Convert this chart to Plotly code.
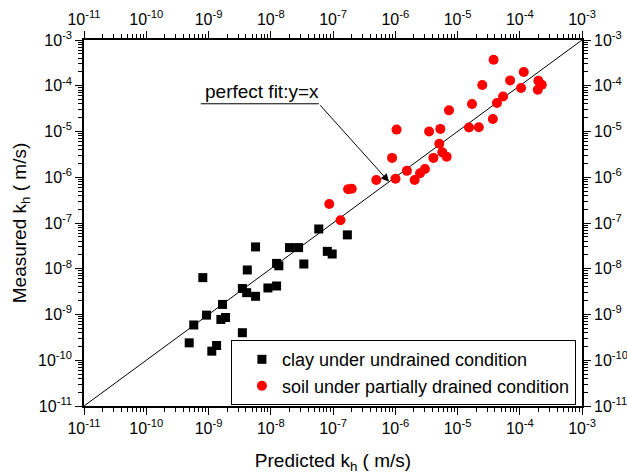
import plotly.graph_objects as go

# ---- data ----
clay_pred = [5.9e-8, 5.7e-9, 2.0e-8, 2.8e-8, 1.7e-7, 8.1e-8, 9.7e-8, 1.24e-8, 1.35e-8,
             3.4e-8, 4.2e-9, 8.1e-10, 3.5e-9, 4.1e-9, 5.7e-9, 9.0e-9, 1.24e-8, 1.68e-9,
             9.3e-10, 5.8e-10, 1.88e-9, 1.58e-9, 3.5e-9, 4.9e-10, 1.35e-9, 1.13e-9]
clay_meas = [7.4e-8, 3.0e-8, 2.9e-8, 2.9e-8, 5.5e-8, 2.4e-8, 2.1e-8, 1.31e-8, 1.16e-8,
             1.27e-8, 9.4e-9, 6.4e-9, 3.7e-9, 3.0e-9, 2.5e-9, 3.8e-9, 4.2e-9, 1.66e-9,
             9.7e-10, 5.9e-10, 8.6e-10, 7.8e-10, 4.0e-10, 2.4e-10, 2.1e-10, 1.58e-10]

soil_pred = [3.8e-5, 1.16e-4, 7.0e-5, 1.99e-4, 2.26e-4, 1.95e-4, 1.05e-4, 2.5e-5, 5.4e-5,
             4.3e-5, 1.71e-5, 7.3e-6, 3.7e-5, 1.53e-5, 2.2e-5, 3.5e-6, 5.3e-6, 1.05e-6,
             5.1e-6, 5.7e-6, 6.7e-6, 4.1e-6, 8.9e-7, 3.0e-6, 2.5e-6, 1.54e-6, 2.05e-6,
             1.01e-6, 4.96e-7, 1.75e-7, 2.0e-7, 8.7e-8, 1.32e-7]
soil_meas = [3.7e-4, 2.0e-4, 1.31e-4, 1.29e-4, 1.05e-4, 8.2e-5, 8.9e-5, 1.04e-4, 5.8e-5,
             4.2e-5, 4.0e-5, 2.9e-5, 1.87e-5, 1.22e-5, 1.24e-5, 1.0e-5, 1.14e-5, 1.10e-5,
             5.4e-6, 3.5e-6, 2.8e-6, 2.65e-6, 2.65e-6, 1.52e-6, 1.22e-6, 1.38e-6, 8.7e-7,
             9.3e-7, 8.7e-7, 5.5e-7, 5.6e-7, 2.6e-7, 1.15e-7]

fit_line = [1e-11, 1e-3]
tick_vals = [1e-11, 1e-10, 1e-9, 1e-8, 1e-7, 1e-6, 1e-5, 1e-4, 1e-3]
tick_text = ["10<sup>-11</sup>", "10<sup>-10</sup>", "10<sup>-9</sup>", "10<sup>-8</sup>",
             "10<sup>-7</sup>", "10<sup>-6</sup>", "10<sup>-5</sup>", "10<sup>-4</sup>",
             "10<sup>-3</sup>"]

FONT = "Liberation Sans, Arial, sans-serif"

fig = go.Figure()

# perfect fit line
fig.add_trace(go.Scatter(x=fit_line, y=fit_line, mode="lines",
                         line=dict(color="black", width=1),
                         showlegend=False, hoverinfo="skip"))

fig.add_trace(go.Scatter(x=clay_pred, y=clay_meas, mode="markers",
                         name="clay under undrained condition",
                         marker=dict(symbol="square", size=9, color="black")))
fig.add_trace(go.Scatter(x=soil_pred, y=soil_meas, mode="markers",
                         name="soil under partially drained condition",
                         marker=dict(symbol="circle", size=10, color="red")))

# underline of the label
fig.add_trace(go.Scatter(x=[10 ** -9.124, 10 ** -7.227], y=[10 ** -4.394, 10 ** -4.394],
                         mode="lines", line=dict(color="black", width=1),
                         showlegend=False, hoverinfo="skip"))

# invisible trace so the mirrored axes are drawn
fig.add_trace(go.Scatter(x=[1e-6], y=[1e-6], xaxis="x2", yaxis="y2", mode="markers",
                         marker=dict(opacity=0), showlegend=False, hoverinfo="skip"))

axis_common = dict(
    type="log", range=[-11, -3], tickmode="array", tickvals=tick_vals, ticktext=tick_text,
    showgrid=False, zeroline=False, showline=True, linecolor="black", linewidth=1.6,
    ticks="outside", ticklen=7, tickwidth=1.3, tickcolor="black", automargin=False,
    tickfont=dict(family=FONT, size=16, color="black"),
    minor=dict(ticks="outside", ticklen=4, tickwidth=1, tickcolor="black", dtick="D1",
               showgrid=False),
)

fig.update_layout(
    width=627, height=476,
    margin=dict(l=84, r=45, t=40, b=70),
    plot_bgcolor="white", paper_bgcolor="white",
    font=dict(family=FONT, color="black"),
    xaxis=dict(**axis_common,
               title=dict(text="Predicted k<sub>h</sub> ( m/s)",
                          font=dict(family=FONT, size=19), standoff=18)),
    yaxis=dict(**axis_common,
               title=dict(text="Measured k<sub>h</sub> ( m/s)",
                          font=dict(family=FONT, size=19), standoff=6)),
    xaxis2=dict(**axis_common, overlaying="x", side="top", anchor="y"),
    yaxis2=dict(**axis_common, overlaying="y", side="right", anchor="x"),
    legend=dict(x=0.295, y=0.18, xanchor="left", yanchor="top",
                bgcolor="white", bordercolor="black", borderwidth=1,
                font=dict(family=FONT, size=18), indentation=10,
                tracegroupgap=0),
    showlegend=True,
)

fig.add_annotation(x=-9.09, y=-4.394, xref="x", yref="y", text="perfect fit:y=x",
                   showarrow=False, xanchor="left", yanchor="bottom",
                   font=dict(family=FONT, size=19, color="black"))
fig.add_annotation(x=-6.10, y=-6.10, xref="x", yref="y", ax=-7.227, ay=-4.394,
                   axref="x", ayref="y", text="", showarrow=True, arrowhead=2,
                   arrowsize=1.6, arrowwidth=1, arrowcolor="black", standoff=0)

fig.write_html("out.html")
